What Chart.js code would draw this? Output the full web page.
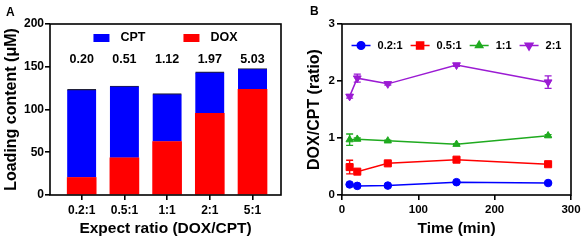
<!DOCTYPE html>
<html><head><meta charset="utf-8">
<script src="https://cdn.jsdelivr.net/npm/chart.js@4"></script>
<style>
html,body{margin:0;padding:0;background:#fff;width:584px;height:245px;overflow:hidden}
#wa{position:absolute;left:0;top:0;width:292px;height:245px}
#wb{position:absolute;left:292px;top:0;width:292px;height:245px}
.pl{position:absolute;font:bold 12px/12px "Liberation Sans",Arial,sans-serif;color:#000}
</style></head><body>
<div id="wa"><canvas id="ca" width="292" height="245"></canvas></div>
<div id="wb"><canvas id="cb" width="292" height="245"></canvas></div>
<div class="pl" style="left:6px;top:6px">A</div>
<div class="pl" style="left:310px;top:5px">B</div>
<script>
// ---- Panel A data ----
const categories = ['0.2:1', '0.5:1', '1:1', '2:1', '5:1'];
const doxLoading = [20.5, 43.5, 62.5, 95.5, 123.5];
const cptLoading = [103, 84, 56, 48.5, 24.5];
const measuredRatios = ['0.20', '0.51', '1.12', '1.97', '5.03'];
const yTicksA = [0, 50, 100, 150, 200];

// ---- Panel B data ----
const timeMin = [10, 20, 60, 150, 270];
const seriesLabels = ['0.2:1', '0.5:1', '1:1', '2:1'];
const ratio02 = [0.185, 0.16, 0.165, 0.225, 0.21];
const ratio05 = [0.49, 0.41, 0.555, 0.62, 0.54];
const ratio11 = [0.97, 0.98, 0.95, 0.89, 1.04];
const ratio21 = [1.73, 2.05, 1.95, 2.28, 1.98];
const err02 = [0.01, 0.01, 0.01, 0.01, 0.01];
const err05 = [0.12, 0.03, 0.02, 0.02, 0.02];
const err11 = [0.10, 0.02, 0.01, 0.01, 0.02];
const err21 = [0.03, 0.07, 0.02, 0.02, 0.11];
const xTicksB = [0, 100, 200, 300];
const yTicksB = [0, 1, 2, 3];

const FONT = '"Liberation Sans", Arial, sans-serif';
Chart.defaults.font.family = FONT;
Chart.defaults.font.weight = 'bold';
Chart.defaults.color = '#000';

const frame = {id: 'frame', afterDraw(c) {
  const {ctx, chartArea: a} = c;
  ctx.save(); ctx.strokeStyle = '#000'; ctx.lineWidth = 1.6;
  ctx.strokeRect(a.left, a.top, a.right - a.left, a.bottom - a.top);
  ctx.restore();
}};

const barLabels = {id: 'barLabels', afterDatasetsDraw(c) {
  const {ctx, scales: {x, y}} = c;
  ctx.save(); ctx.font = 'bold 12.5px ' + FONT; ctx.fillStyle = '#000';
  ctx.textAlign = 'center'; ctx.textBaseline = 'middle';
  measuredRatios.forEach((t, i) => ctx.fillText(t, x.getPixelForValue(i), y.getPixelForValue(159)));
  ctx.restore();
}};

const legendA = {id: 'legendA', afterDraw(c) {
  const {ctx, chartArea: a} = c;
  const items = c.data.datasets.slice().reverse();
  ctx.save(); ctx.font = 'bold 12.5px ' + FONT; ctx.textBaseline = 'middle'; ctx.textAlign = 'left';
  const bw = 16, bh = 8, gap = 11, sp = 38;
  let total = 0;
  items.forEach((d, i) => { total += bw + gap + ctx.measureText(d.label).width + (i ? sp : 0); });
  let x = (a.left + a.right) / 2 - total / 2;
  const yc = a.top + 14;
  items.forEach(d => {
    ctx.fillStyle = d.backgroundColor; ctx.fillRect(x, yc - bh / 2, bw, bh);
    x += bw + gap;
    ctx.fillStyle = '#000'; ctx.fillText(d.label, x, yc);
    x += ctx.measureText(d.label).width + sp;
  });
  ctx.restore();
}};

const axisCommon = {
  grid: {drawOnChartArea: false, drawTicks: true, tickLength: 5, color: '#000', lineWidth: 1.6, offset: false},
  border: {display: false}
};

new Chart(document.getElementById('ca'), {
  type: 'bar',
  data: {datasets: [
    {label: 'DOX', data: doxLoading.map((v, i) => ({x: i, y: v})), backgroundColor: '#ff0000', barThickness: 29},
    {label: 'CPT', data: cptLoading.map((v, i) => ({x: i, y: v})), backgroundColor: '#0000ff',
     borderColor: '#20203a', borderWidth: {top: 1.2, left: 0, right: 0, bottom: 0}, borderSkipped: false, barThickness: 29}
  ]},
  options: {
    responsive: false, animation: false, devicePixelRatio: 1,
    layout: {padding: {top: 24, right: 11, left: 0, bottom: 0}},
    plugins: {legend: {display: false}, tooltip: {enabled: false}},
    scales: {
      x: Object.assign({}, axisCommon, {
        type: 'linear', stacked: true, offset: false, min: -0.742, max: 4.667,
        afterBuildTicks: s => { s.ticks = categories.map((_, i) => ({value: i})); },
        afterFit: s => { s.height = 50; },
        ticks: {callback: v => categories[v], font: {size: 12, weight: 'bold'}, padding: 3, autoSkip: false, maxRotation: 0},
        title: {display: true, text: 'Expect ratio (DOX/CPT)', font: {size: 15.5, weight: 'bold'}, padding: {top: 0, bottom: 7}}
      }),
      y: Object.assign({}, axisCommon, {
        stacked: true, min: 0, max: 200,
        afterBuildTicks: s => { s.ticks = yTicksA.map(v => ({value: v})); },
        afterFit: s => { s.width = 50; },
        ticks: {font: {size: 12, weight: 'bold'}, padding: 1},
        title: {display: true, text: 'Loading content (μM)', font: {size: 16, weight: 'bold'}, padding: {top: 2, bottom: 0}}
      })
    }
  },
  plugins: [frame, barLabels, legendA]
});

// ---- Panel B ----
const mk = (label, vals, errs, color, style, radius, rot) => ({
  label, data: timeMin.map((t, i) => ({x: t, y: vals[i]})), errors: errs,
  borderColor: color, backgroundColor: color, borderWidth: 1.5,
  pointStyle: style, pointRadius: radius, pointRotation: rot, pointBorderWidth: 1,
  pointBackgroundColor: color, pointBorderColor: color
});

const errorBars = {id: 'errorBars', beforeDatasetsDraw(c) {
  const {ctx, scales: {x, y}} = c;
  c.data.datasets.forEach(ds => {
    ctx.save(); ctx.strokeStyle = ds.borderColor; ctx.lineWidth = 1.4;
    ds.data.forEach((p, i) => {
      const e = ds.errors[i]; if (!e) return;
      const px = x.getPixelForValue(p.x), y1 = y.getPixelForValue(p.y + e), y2 = y.getPixelForValue(p.y - e);
      ctx.beginPath();
      ctx.moveTo(px, y1); ctx.lineTo(px, y2);
      ctx.moveTo(px - 3.5, y1); ctx.lineTo(px + 3.5, y1);
      ctx.moveTo(px - 3.5, y2); ctx.lineTo(px + 3.5, y2);
      ctx.stroke();
    });
    ctx.restore();
  });
}};

const legendB = {id: 'legendB', afterDraw(c) {
  const {ctx, chartArea: a} = c;
  const ds = c.data.datasets;
  ctx.save(); ctx.font = 'bold 11px ' + FONT; ctx.textBaseline = 'middle'; ctx.textAlign = 'left';
  const lw = 19, gap = 7, sp = 8;
  let total = 0;
  ds.forEach((d, i) => { total += lw + gap + ctx.measureText(d.label).width + (i ? sp : 0); });
  let x = (a.left + a.right) / 2 - total / 2;
  const yc = a.top + 21.5;
  ds.forEach(d => {
    ctx.strokeStyle = d.borderColor; ctx.fillStyle = d.backgroundColor; ctx.lineWidth = 1.5;
    ctx.beginPath(); ctx.moveTo(x, yc); ctx.lineTo(x + lw, yc); ctx.stroke();
    Chart.helpers.drawPoint(ctx, {pointStyle: d.pointStyle, radius: d.pointRadius, rotation: d.pointRotation, borderWidth: 1}, x + lw / 2, yc);
    x += lw + gap;
    ctx.fillStyle = '#000'; ctx.fillText(d.label, x, yc);
    x += ctx.measureText(d.label).width + sp;
  });
  ctx.restore();
}};

new Chart(document.getElementById('cb'), {
  type: 'line',
  data: {datasets: [
    mk(seriesLabels[0], ratio02, err02, '#0000ff', 'circle', 3.8, 0),
    mk(seriesLabels[1], ratio05, err05, '#ff0000', 'rect', 5, 0),
    mk(seriesLabels[2], ratio11, err11, '#1faa1f', 'triangle', 4.2, 0),
    mk(seriesLabels[3], ratio21, err21, '#9b1bd3', 'triangle', 4.5, 180)
  ]},
  options: {
    responsive: false, animation: false, devicePixelRatio: 1,
    layout: {padding: {top: 24, right: 13, left: 0, bottom: 0}},
    plugins: {legend: {display: false}, tooltip: {enabled: false}},
    scales: {
      x: Object.assign({}, axisCommon, {
        type: 'linear', min: 0, max: 300,
        afterBuildTicks: s => { s.ticks = xTicksB.map(v => ({value: v})); },
        afterFit: s => { s.height = 50; },
        ticks: {font: {size: 11.5, weight: 'bold'}, padding: 3, maxRotation: 0},
        title: {display: true, text: 'Time (min)', font: {size: 15.5, weight: 'bold'}, padding: {top: 0, bottom: 7}}
      }),
      y: Object.assign({}, axisCommon, {
        min: 0, max: 3,
        afterBuildTicks: s => { s.ticks = yTicksB.map(v => ({value: v})); },
        afterFit: s => { s.width = 50; },
        ticks: {font: {size: 11.5, weight: 'bold'}, padding: 2},
        title: {display: true, text: 'DOX/CPT (ratio)', font: {size: 16, weight: 'bold'}, padding: {top: 13.4, bottom: 0}}
      })
    }
  },
  plugins: [frame, errorBars, legendB]
});
</script>
</body></html>
